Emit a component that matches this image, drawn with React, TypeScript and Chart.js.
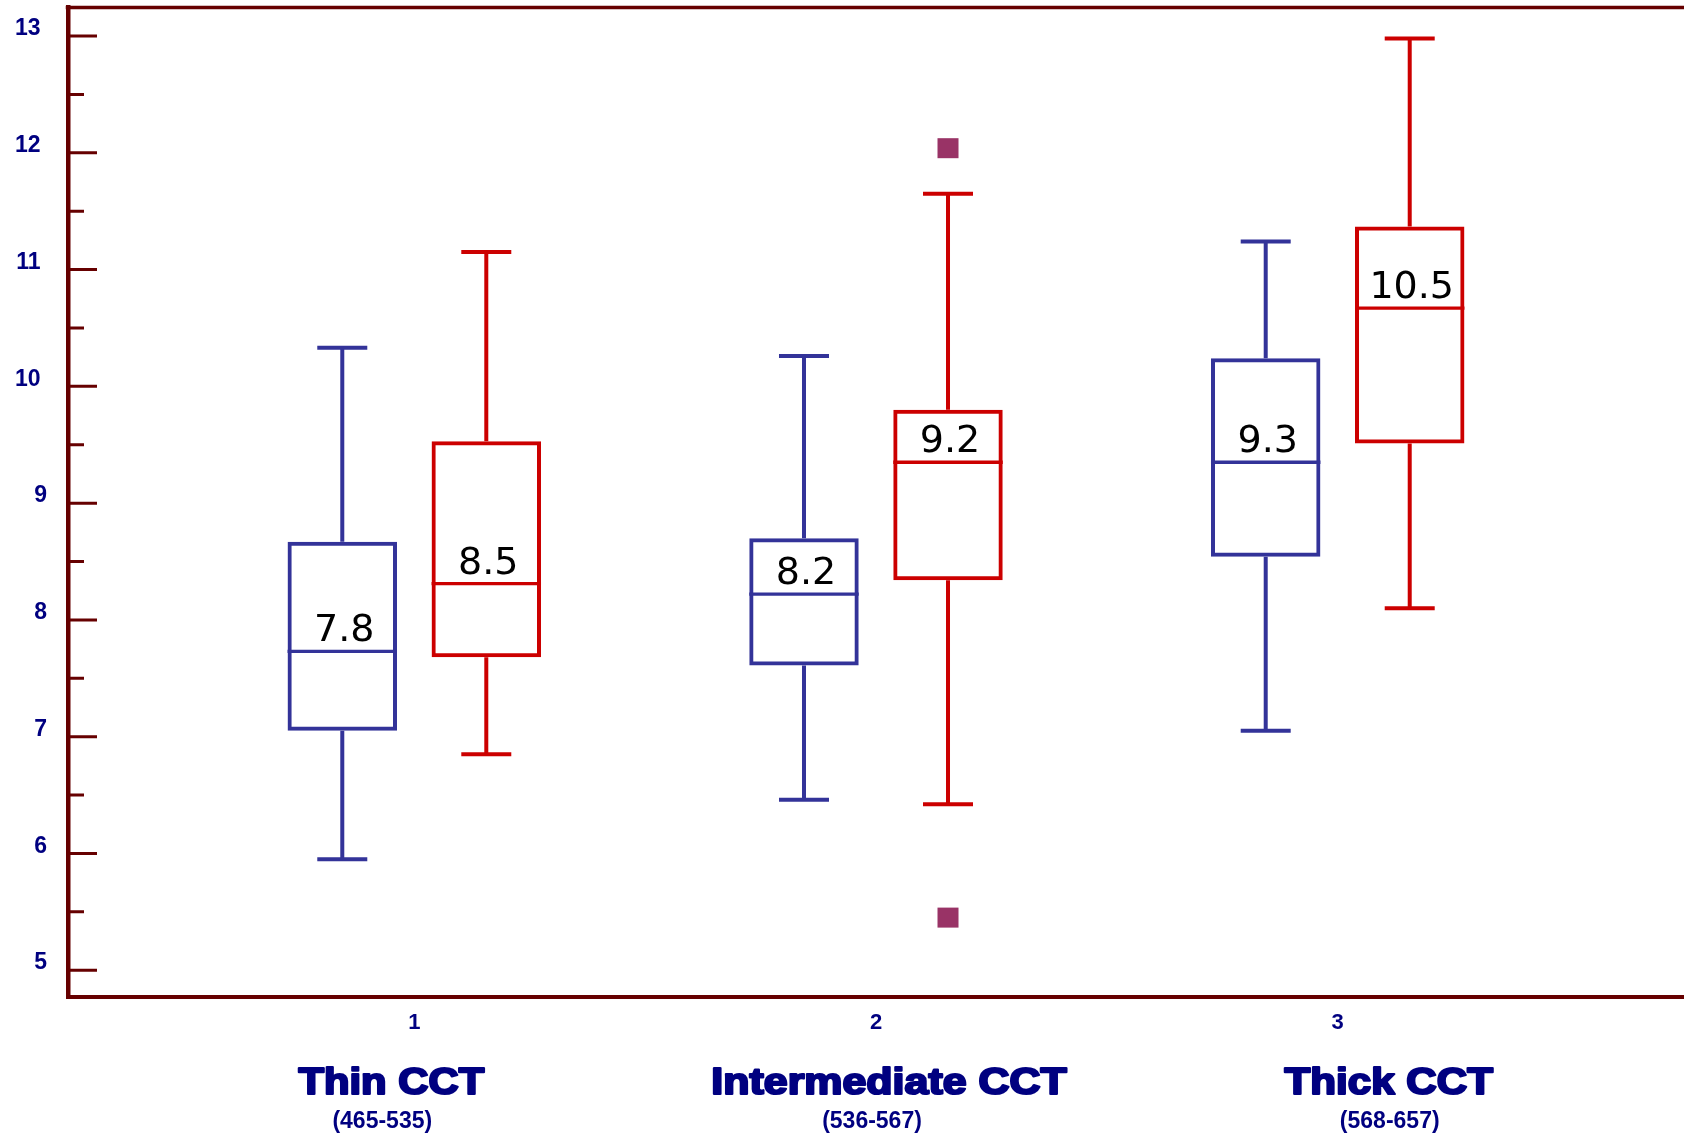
import React, { useEffect, useRef } from 'react';
import { Chart, registerables } from 'chart.js';

Chart.register(...registerables);

// ---------- data ----------
const categories = [1, 2, 3];
const xTickLabels = ['1', '2', '3'];
const groupNames = ['Thin CCT', 'Intermediate CCT', 'Thick CCT'];
const groupRanges = ['(465-535)', '(536-567)', '(568-657)'];

const blueMin = [5.95, 6.46, 7.05];
const blueQ1 = [7.05, 7.61, 8.54];
const blueMedian = [7.73, 8.22, 9.35];
const blueQ3 = [8.67, 8.7, 10.24];
const blueMax = [10.33, 10.26, 11.24];
const blueLabels = ['7.8', '8.2', '9.3'];
const blueOutliers: number[][] = [[], [], []];

const redMin = [6.85, 6.42, 8.1];
const redQ1 = [7.68, 8.34, 9.51];
const redMedian = [8.31, 9.35, 10.67];
const redQ3 = [9.53, 9.8, 11.37];
const redMax = [11.15, 11.65, 12.98];
const redLabels = ['8.5', '9.2', '10.5'];
const redOutliers: number[][] = [[], [12.04, 5.45], []];

const yTickValues = [5, 6, 7, 8, 9, 10, 11, 12, 13];
const yTickLabels = ['5', '6', '7', '8', '9', '10', '11', '12', '13'];
const yMinorTickValues = [5.5, 6.5, 7.5, 8.5, 9.5, 10.5, 11.5, 12.5];

// ---------- style ----------
const BLUE = '#333399';
const RED = '#cc0000';
const OUTLIER = '#993366';
const AXIS = '#660000';
const NAVY = '#000080';
const SANS = '"Liberation Sans", Arial, sans-serif';
const groupNameShift = [-23, 13, 51];
const groupNameStretch = [1.13, 1.16, 1.14];
const groupRangeShift = [-32, -4, 52];

const series = [
  { min: blueMin, q1: blueQ1, med: blueMedian, q3: blueQ3, max: blueMax, labels: blueLabels, outliers: blueOutliers, color: BLUE },
  { min: redMin, q1: redQ1, med: redMedian, q3: redQ3, max: redMax, labels: redLabels, outliers: redOutliers, color: RED },
];

const boxExtras = {
  id: 'boxExtras',
  afterDatasetsDraw(chart: any) {
    const ctx = chart.ctx;
    const ys = chart.scales.y;
    ctx.save();
    series.forEach((s, d) => {
      const meta = chart.getDatasetMeta(d);
      meta.data.forEach((bar: any, i: number) => {
        const { x, width } = bar.getProps(['x', 'width'], true);
        const pMin = ys.getPixelForValue(s.min[i]);
        const pQ1 = ys.getPixelForValue(s.q1[i]);
        const pMed = ys.getPixelForValue(s.med[i]);
        const pQ3 = ys.getPixelForValue(s.q3[i]);
        const pMax = ys.getPixelForValue(s.max[i]);
        ctx.strokeStyle = s.color;
        ctx.lineCap = 'butt';
        ctx.lineWidth = 4;
        ctx.beginPath();
        ctx.moveTo(x, pQ3);
        ctx.lineTo(x, pMax);
        ctx.moveTo(x - 25, pMax);
        ctx.lineTo(x + 25, pMax);
        ctx.moveTo(x, pQ1);
        ctx.lineTo(x, pMin);
        ctx.moveTo(x - 25, pMin);
        ctx.lineTo(x + 25, pMin);
        ctx.stroke();
        ctx.lineWidth = 3.3;
        ctx.beginPath();
        ctx.moveTo(x - width / 2, pMed);
        ctx.lineTo(x + width / 2, pMed);
        ctx.stroke();
        ctx.fillStyle = OUTLIER;
        s.outliers[i].forEach((v) => {
          const py = ys.getPixelForValue(v);
          ctx.fillRect(x - 10.5, py - 10, 21, 20);
        });
        ctx.fillStyle = '#000000';
        ctx.font = '38px "DejaVu Sans", sans-serif';
        ctx.textAlign = 'center';
        ctx.textBaseline = 'alphabetic';
        ctx.fillText(s.labels[i], x + 2, pMed - 10);
      });
    });
    ctx.restore();
  },
  afterDraw(chart: any) {
    const ctx = chart.ctx;
    const ys = chart.scales.y;
    const xs = chart.scales.x;
    const area = chart.chartArea;
    ctx.save();
    // top border
    ctx.strokeStyle = AXIS;
    ctx.lineWidth = 3.5;
    ctx.beginPath();
    ctx.moveTo(area.left - 2.25, area.top);
    ctx.lineTo(area.right, area.top);
    ctx.stroke();
    // inner ticks
    ctx.lineWidth = 3;
    ctx.beginPath();
    yTickValues.forEach((v) => {
      const py = ys.getPixelForValue(v);
      ctx.moveTo(area.left, py);
      ctx.lineTo(area.left + 29, py);
    });
    yMinorTickValues.forEach((v) => {
      const py = ys.getPixelForValue(v);
      ctx.moveTo(area.left, py);
      ctx.lineTo(area.left + 16, py);
    });
    ctx.stroke();
    // group names
    ctx.fillStyle = NAVY;
    ctx.strokeStyle = NAVY;
    ctx.textAlign = 'center';
    ctx.textBaseline = 'alphabetic';
    categories.forEach((c, i) => {
      const px = xs.getPixelForValue(c);
      ctx.save();
      ctx.translate(px + groupNameShift[i], area.bottom + 97);
      ctx.scale(groupNameStretch[i], 1);
      ctx.font = `bold 37px ${SANS}`;
      ctx.lineWidth = 2.2;
      ctx.lineJoin = 'round';
      ctx.fillText(groupNames[i], 0, 0);
      ctx.strokeText(groupNames[i], 0, 0);
      ctx.restore();
      ctx.font = `bold 23px ${SANS}`;
      ctx.fillText(groupRanges[i], px + groupRangeShift[i], area.bottom + 130.5);
    });
    ctx.restore();
  },
};

export default function App() {
  const ref = useRef<HTMLCanvasElement | null>(null);
  useEffect(() => {
    if (!ref.current) return;
    const makeData = (q1: number[], q3: number[]) => categories.map((c, i) => ({ x: c, y: [q1[i], q3[i]] }));
    const barStyle = {
      backgroundColor: 'rgba(255,255,255,0)',
      borderWidth: 4,
      borderSkipped: false,
      categoryPercentage: 0.6238,
      barPercentage: 0.76,
      inflateAmount: 0,
    };
    const chart = new Chart(ref.current, {
      type: 'bar',
      data: {
        datasets: [
          { label: 'blue', data: makeData(blueQ1, blueQ3) as any, borderColor: BLUE, ...barStyle } as any,
          { label: 'red', data: makeData(redQ1, redQ3) as any, borderColor: RED, ...barStyle } as any,
        ],
      },
      options: {
        animation: false,
        responsive: false,
        maintainAspectRatio: false,
        layout: { padding: { top: 7.5, left: 0, right: 0, bottom: 0 } },
        plugins: { legend: { display: false }, tooltip: { enabled: false } },
        scales: {
          x: {
            type: 'linear',
            offset: false,
            min: 0.25,
            max: 3.75,
            afterBuildTicks: (s: any) => {
              s.ticks = categories.map((v) => ({ value: v }));
            },
            afterFit: (s: any) => {
              s.height = 139;
              s.paddingLeft = 0;
              s.paddingRight = 0;
            },
            grid: { display: false, drawTicks: false, offset: false },
            border: { display: true, color: AXIS, width: 4 },
            ticks: {
              color: NAVY,
              font: { family: SANS, size: 22, weight: 'bold' },
              padding: 13,
              maxRotation: 0,
              autoSkip: false,
              callback: (_v: any, idx: number) => xTickLabels[idx],
            },
          },
          y: {
            type: 'linear',
            min: 4.77,
            max: 13.245,
            afterBuildTicks: (s: any) => {
              s.ticks = yTickValues.map((v) => ({ value: v }));
            },
            afterFit: (s: any) => {
              s.width = 68;
              s.paddingTop = 0;
              s.paddingBottom = 0;
            },
            grid: { display: false, drawTicks: false },
            border: { display: true, color: AXIS, width: 4.5 },
            ticks: {
              color: NAVY,
              font: { family: SANS, size: 23, weight: 'bold' },
              padding: 21,
              labelOffset: -7,
              autoSkip: false,
              callback: (_v: any, idx: number) => {
                const l = yTickLabels[idx];
                return l.length > 1 ? l + ' ' : l;
              },
            },
          },
        },
      } as any,
      plugins: [boxExtras],
    });
    return () => chart.destroy();
  }, []);
  return (
    <canvas
      ref={ref}
      width={1684}
      height={1136}
      style={{ position: 'absolute', left: 0, top: 0, width: 1684, height: 1136, display: 'block' }}
    />
  );
}
